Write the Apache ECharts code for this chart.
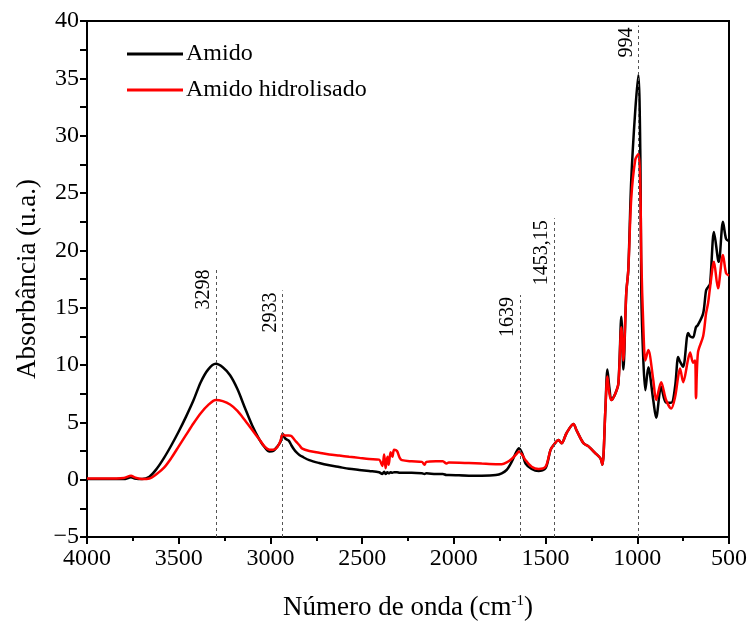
<!DOCTYPE html>
<html>
<head>
<meta charset="utf-8">
<script src="https://cdn.jsdelivr.net/npm/echarts@6/dist/echarts.min.js"></script>
<style>html,body{margin:0;padding:0;background:#fff;}#c{width:750px;height:626px;}</style>
</head>
<body>
<div id="c"></div>
<script>
var wavenumbers = [4000,3900,3800,3760,3740,3700,3660,3620,3580,3540,3500,3460,3420,3380,3340,3298,3260,3220,3180,3140,3100,3060,3030,3005,2985,2962,2945,2933,2920,2900,2886,2870,2859,2842,2826,2788,2734,2679,2625,2571,2516,2462,2408,2390,2380,2372,2362,2355,2345,2335,2326,2310,2295,2283,2230,2174,2160,2150,2098,2060,2040,2027,1918,1848,1771,1739,1712,1685,1660,1645,1625,1609,1576,1538,1500,1473,1457,1429,1413,1386,1348,1331,1293,1266,1228,1201,1190,1174,1163,1152,1141,1120,1103,1087,1076,1060,1049,1033,1011,994,983,978,967,956,940,913,897,870,843,815,794,777,767,750,723,712,696,685,680,669,641,625,614,603,582,560,555,533,516,500];
var amido = [0.05,0.05,0.05,0.2,0.1,0.05,0.25,0.95,1.9,3.0,4.2,5.5,6.9,8.5,9.6,10.1,9.8,9.1,7.9,6.3,4.75,3.5,2.8,2.45,2.5,2.9,3.3,4.0,3.6,3.4,3.0,2.6,2.4,2.15,2.0,1.7,1.45,1.25,1.1,0.95,0.85,0.75,0.65,0.5,0.7,0.5,0.65,0.55,0.65,0.6,0.65,0.65,0.6,0.6,0.6,0.55,0.5,0.55,0.5,0.5,0.4,0.4,0.35,0.35,0.4,0.55,0.85,1.55,2.4,2.75,2.2,1.4,0.93,0.75,1.0,2.6,3.0,3.45,3.17,4.05,4.85,4.3,3.17,2.9,2.3,1.85,1.3,6.1,9.6,8.0,6.95,7.5,8.4,14.2,9.6,16.3,18.3,26.1,32.2,35.3,27.9,16.3,10.4,7.8,9.8,6.95,5.4,8.1,6.7,6.7,8.1,10.7,10.3,9.85,12.8,12.5,12.4,13.0,13.3,13.5,14.5,16.5,16.8,17.1,21.6,19.2,19.0,22.5,21.0,20.8];
var amidoHidrolisado = [0.1,0.1,0.15,0.35,0.2,0.05,0.1,0.5,1.05,1.9,2.9,3.9,4.9,5.8,6.5,6.95,6.85,6.55,6.0,5.2,4.35,3.5,2.85,2.6,2.6,2.85,3.4,3.95,3.85,3.85,3.8,3.5,3.3,3.0,2.7,2.5,2.35,2.2,2.1,2.0,1.9,1.8,1.75,1.2,2.2,1.0,2.0,1.3,2.4,2.0,2.6,2.5,1.9,1.7,1.6,1.55,1.3,1.55,1.6,1.6,1.4,1.5,1.45,1.4,1.35,1.35,1.5,1.8,2.2,2.45,2.1,1.7,1.13,0.93,1.13,2.6,3.0,3.45,3.17,4.05,4.85,4.3,3.17,2.9,2.3,1.85,1.3,6.1,9.0,7.5,6.95,7.5,8.4,13.3,10.4,16.3,18.3,24.5,27.9,28.4,25.0,19.2,13.3,10.4,11.3,8.7,6.95,8.5,6.95,6.2,7.2,9.0,9.7,8.5,10.5,11.1,10.2,10.4,7.1,11.1,12.5,14.5,15.4,16.8,19.0,16.7,17.0,19.6,18.0,17.8];
var xTicks = {min: 500, max: 4000, interval: 500};
var yTicks = {min: -5, max: 40, interval: 5};
var peakPositions = [3298, 2933, 1639, 1453.15, 994];
var peakLabels = ['3298', '2933', '1639', '1453,15', '994'];
var peakLineTops = [18.5, 16.5, 16.1, 22.8, 39.6];
var seriesNames = ['Amido', 'Amido hidrolisado'];

function pairs(xs, ys) { return xs.map(function (x, i) { return [x, ys[i]]; }); }

var font = '"Liberation Serif", "Times New Roman", serif';
var chart = echarts.init(document.getElementById('c'), null, {renderer: 'canvas'});
var markData = peakPositions.map(function (p, i) {
  return [
    {coord: [p, yTicks.min], name: peakLabels[i]},
    {coord: [p, peakLineTops[i]]}
  ];
});
chart.setOption({
  animation: false,
  backgroundColor: '#fff',
  grid: {left: 87, right: 19, top: 21, bottom: 89, show: true, borderColor: '#000', borderWidth: 2, backgroundColor: 'transparent'},
  legend: {
    left: 122, top: 37, orient: 'vertical', icon: 'rect', itemWidth: 56, itemHeight: 3, itemGap: 12,
    textStyle: {fontFamily: font, fontSize: 24, color: '#000', padding: [0, 0, 0, -2]},
    data: seriesNames
  },
  xAxis: {
    type: 'value', inverse: true, min: xTicks.min, max: xTicks.max, interval: xTicks.interval,
    name: 'Número de onda (cm{sup|-1})', nameLocation: 'middle', nameGap: 57,
    nameTextStyle: {fontFamily: font, fontSize: 27, color: '#000', rich: {sup: {fontFamily: font, fontSize: 15, verticalAlign: 'top', padding: [0, 0, 12, 0], color: '#000'}}},
    axisLine: {onZero: false, lineStyle: {color: '#000', width: 2}},
    axisTick: {show: true, inside: false, length: 7, lineStyle: {color: '#000', width: 2}},
    minorTick: {show: true, splitNumber: 2, length: 4, lineStyle: {color: '#000', width: 2}},
    axisLabel: {fontFamily: font, fontSize: 24, color: '#000', margin: 10, formatter: function (v) { return String(v); }},
    splitLine: {show: false}
  },
  yAxis: {
    type: 'value', min: yTicks.min, max: yTicks.max, interval: yTicks.interval,
    name: 'Absorbância (u.a.)', nameLocation: 'middle', nameGap: 46,
    nameTextStyle: {fontFamily: font, fontSize: 27, color: '#000'},
    axisLine: {lineStyle: {color: '#000', width: 2}},
    axisTick: {show: true, inside: false, length: 7, lineStyle: {color: '#000', width: 2}},
    minorTick: {show: true, splitNumber: 2, length: 7, lineStyle: {color: '#000', width: 2}},
    axisLabel: {fontFamily: font, fontSize: 24, color: '#000', margin: 8,
      formatter: function (v) { return v < 0 ? '\u2212' + Math.abs(v) : String(v); }},
    splitLine: {show: false}
  },
  series: [
    {
      name: seriesNames[0], type: 'line', data: pairs(wavenumbers, amido), showSymbol: false, symbol: 'none',
      smooth: 0.3,
      lineStyle: {color: '#000', width: 2.5}, itemStyle: {color: '#000'}, z: 3,
      markLine: {
        silent: true, symbol: ['none', 'none'], animation: false,
        lineStyle: {color: '#555', width: 1, type: [3, 3]},
        label: {show: true, position: 'insideEndTop', formatter: '{b}', fontFamily: font, fontSize: 20, color: '#000', distance: 2},
        data: markData
      }
    },
    {
      name: seriesNames[1], type: 'line', data: pairs(wavenumbers, amidoHidrolisado), showSymbol: false, symbol: 'none',
      smooth: 0.3,
      lineStyle: {color: '#ff0000', width: 2.5}, itemStyle: {color: '#ff0000'}, z: 4
    }
  ]
});
</script>
</body>
</html>
